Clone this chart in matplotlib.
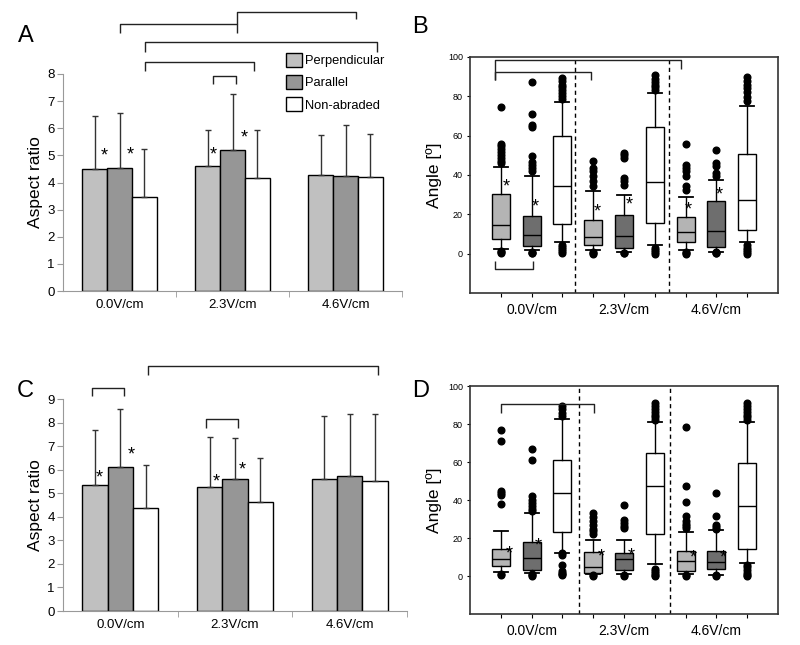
import numpy as np
import matplotlib
matplotlib.use('Agg')
import matplotlib.pyplot as plt
from matplotlib.patches import Patch

plt.rcParams['font.family'] = ['Liberation Sans', 'DejaVu Sans']

fields = ['0.0V/cm', '2.3V/cm', '4.6V/cm']
series = ['Perpendicular', 'Parallel', 'Non-abraded']
bar_colors = ['#c0c0c0', '#969696', 'white']
box_colors = ['#b4b4b4', '#6e6e6e', 'white']

# panel A: mean aspect ratio (+ SD)
a_perp = [4.48, 4.60, 4.27]
a_perp_sd = [1.99, 1.32, 1.49]
a_par = [4.52, 5.18, 4.23]
a_par_sd = [2.03, 2.10, 1.90]
a_non = [3.48, 4.15, 4.20]
a_non_sd = [1.74, 1.77, 1.60]

# panel C: mean aspect ratio (+ SD)
c_perp = [5.37, 5.28, 5.60]
c_perp_sd = [2.31, 2.12, 2.66]
c_par = [6.10, 5.59, 5.71]
c_par_sd = [2.49, 1.75, 2.66]
c_non = [4.36, 4.62, 5.54]
c_non_sd = [1.84, 1.87, 2.83]

# panel B: angle box plots (perp, par, non for each field)
b_whislo = [2.5, 1.7, 5.8, 2.0, 1.0, 4.2, 2.0, 0.8, 5.9]
b_q1 = [7.5, 4.1, 15.1, 4.6, 2.9, 15.6, 5.8, 3.4, 11.9]
b_med = [14.6, 9.5, 34.6, 8.5, 8.8, 36.3, 10.9, 11.4, 27.1]
b_q3 = [30.3, 19.3, 60.0, 17.3, 19.8, 64.4, 18.6, 26.6, 50.8]
b_whishi = [44.0, 39.5, 77.1, 31.7, 30.0, 81.7, 28.6, 37.6, 74.9]
b_fliers = [
    [74.6, 56.0, 54.5, 53.0, 51.5, 50.0, 48.5, 47.0, 46.0, 1.5, 0.8, 0.3],
    [87.3, 71.0, 65.5, 64.5, 49.5, 46.5, 45.0, 43.5, 42.0, 0.9, 0.4, 0.1],
    [89.3, 88.0, 86.0, 84.7, 83.0, 81.5, 80.0, 78.5, 4.5, 3.5, 2.5, 1.5, 0.5],
    [47.3, 43.6, 41.9, 39.3, 36.8, 34.2, 1.0, 0.4, 0.0],
    [51.2, 50.0, 48.6, 38.5, 36.8, 35.0, 0.5, 0.1],
    [90.6, 89.0, 87.5, 86.0, 84.5, 83.3, 3.0, 2.0, 1.0, 0.0],
    [55.9, 45.2, 43.6, 41.9, 39.3, 34.2, 32.5, 1.0, 0.4, 0.0],
    [52.9, 46.1, 44.8, 41.0, 39.3, 1.0, 0.5, 0.1],
    [89.8, 88.0, 86.0, 84.2, 82.0, 79.5, 77.4, 4.5, 3.0, 2.0, 1.0, 0.0],
]

# panel D: angle box plots
d_whislo = [2.1, 1.8, 12.3, 0.9, 0.9, 6.1, 0.9, 0.5, 7.0]
d_q1 = [5.2, 3.1, 23.3, 1.8, 3.1, 22.2, 2.8, 3.9, 14.4]
d_med = [8.8, 9.6, 43.7, 4.9, 8.8, 47.6, 7.9, 7.3, 36.7]
d_q3 = [14.4, 17.8, 61.2, 12.6, 12.3, 65.0, 13.1, 13.1, 59.5]
d_whishi = [23.6, 33.2, 82.7, 19.2, 19.2, 80.8, 23.1, 24.1, 81.3]
d_fliers = [
    [76.9, 71.2, 44.6, 43.5, 42.5, 38.1, 1.0, 0.5],
    [67.0, 61.2, 42.0, 40.0, 38.5, 37.0, 35.5, 34.0, 1.0, 0.5, 0.1],
    [89.5, 88.0, 86.0, 84.4, 12.0, 11.0, 5.8, 2.6, 1.8, 1.0, 0.3],
    [33.2, 31.0, 29.0, 27.0, 25.0, 23.5, 21.9, 0.3, 0.0],
    [37.6, 29.7, 28.0, 26.5, 25.5, 0.3, 0.0],
    [90.9, 89.5, 88.0, 86.5, 85.0, 83.5, 82.0, 3.5, 2.5, 1.5, 0.5, 0.0],
    [78.3, 47.6, 38.8, 31.8, 28.8, 27.5, 26.2, 25.4, 0.5, 0.0],
    [43.7, 31.5, 27.0, 26.0, 25.0, 0.5, 0.0],
    [90.9, 89.5, 88.0, 86.5, 85.0, 83.5, 82.0, 6.0, 4.5, 3.0, 1.5, 0.5, 0.0],
]

# significance marks: (x, y) in data units
a_stars = [(-0.137, 4.99), (0.093, 5.0), (0.83, 5.0), (1.10, 5.63)]
c_stars = [(-0.184, 5.66), (0.096, 6.62), (0.84, 5.49), (1.06, 5.98)]
b_stars = [(1.19, 33.9), (2.13, 23.7), (4.12, 21.0), (5.17, 24.9), (7.10, 22.4), (8.10, 29.7)]
d_stars = [(1.26, 11.4), (2.23, 15.7), (4.26, 10.0), (5.25, 10.5), (7.24, 9.6), (8.23, 9.6)]

# brackets: x0, x1, top, left leg end, right leg end
a_brackets = [(0.0, 1.04, 9.84, 9.51, 9.51), (1.04, 2.09, 10.29, 9.84, 10.03),
              (0.226, 2.28, 9.18, 8.81, 8.81), (0.226, 1.19, 8.44, 8.11, 8.11),
              (0.83, 1.03, 7.93, 7.63, 7.63)]
c_brackets = [(0.237, 2.25, 10.4, 10.02, 10.02), (-0.245, 0.035, 9.47, 9.13, 9.13),
              (0.75, 1.03, 8.15, 7.77, 7.77)]
b_brackets = [(0.8, 6.84, 98.3, 88.3, 93.9), (0.8, 3.94, 92.5, 88.3, 88.5),
              (0.8, 2.05, -7.8, -3.9, -3.9)]
d_brackets = [(1.0, 4.04, 90.4, 86.0, 86.0)]


def draw_brackets(ax, brackets):
    for x0, x1, top, l0, l1 in brackets:
        ax.plot([x0, x0, x1, x1], [l0, top, top, l1], color='#222222', lw=1.0,
                clip_on=False, solid_capstyle='butt')


def bar_panel(ax, means, sds, ymax, stars, brackets):
    x = np.arange(len(fields))
    w = 0.22
    for i, (m, s) in enumerate(zip(means, sds)):
        ax.bar(x + (i - 1) * w, m, w, color=bar_colors[i], edgecolor='black', linewidth=1.0,
               yerr=[np.zeros(len(s)), s], capsize=2.5,
               error_kw=dict(elinewidth=1.0, ecolor='#333333', capthick=1.0), zorder=2)
    ax.set_xlim(-0.5, 2.5)
    ax.set_ylim(0, ymax)
    ax.set_yticks(range(0, ymax + 1))
    ax.set_xticks(x)
    ax.set_xticklabels(fields, fontsize=9.5)
    ax.set_xticks([0.5, 1.5, 2.5], minor=True)
    ax.tick_params(axis='x', which='major', length=0, pad=6)
    ax.tick_params(axis='x', which='minor', length=4, color='#999999')
    ax.tick_params(axis='y', labelsize=9.5, length=4, color='#999999', pad=2)
    for sp in ['top', 'right']:
        ax.spines[sp].set_visible(False)
    for sp in ['left', 'bottom']:
        ax.spines[sp].set_color('#999999')
    ax.set_ylabel('Aspect ratio', fontsize=12.5, labelpad=3)
    for sx, sy in stars:
        ax.text(sx, sy, '*', ha='center', va='center', fontsize=13)
    draw_brackets(ax, brackets)


def box_panel(ax, whislo, q1, med, q3, whishi, fliers, stars, brackets, dashes):
    stats = []
    for i in range(len(med)):
        stats.append(dict(whislo=whislo[i], q1=q1[i], med=med[i], q3=q3[i],
                          whishi=whishi[i], fliers=fliers[i]))
    pos = np.arange(1, len(med) + 1)
    bp = ax.bxp(stats, positions=pos, widths=0.58, patch_artist=True, capwidths=0.45,
                manage_ticks=False,
                boxprops=dict(linewidth=1.0, edgecolor='black'),
                medianprops=dict(color='black', linewidth=1.0),
                whiskerprops=dict(color='black', linewidth=1.0),
                capprops=dict(color='black', linewidth=1.3),
                flierprops=dict(marker='o', markerfacecolor='black', markeredgecolor='black',
                                markersize=4.8, linestyle='none'))
    for i, patch in enumerate(bp['boxes']):
        patch.set_facecolor(box_colors[i % 3])
    for xd in dashes:
        ax.axvline(xd, color='black', lw=1.0, ls=(0, (3, 2.5)))
    ax.set_xlim(0, 10)
    ax.set_ylim(-20, 100)
    ax.set_yticks([0, 20, 40, 60, 80, 100])
    ax.tick_params(axis='y', labelsize=6.5, length=2, pad=3)
    ax.set_xticks(pos)
    ax.set_xticklabels(['', fields[0], '', '', fields[1], '', '', fields[2], ''], fontsize=10)
    ax.tick_params(axis='x', length=3, pad=4)
    for sp in ax.spines.values():
        sp.set_color('#333333')
        sp.set_linewidth(1.2)
    ax.set_ylabel('Angle [º]', fontsize=12.5, labelpad=4)
    for sx, sy in stars:
        ax.text(sx, sy, '*', ha='center', va='center', fontsize=13)
    draw_brackets(ax, brackets)


fig = plt.figure(figsize=(8, 6.45), dpi=100)
W, H = 800, 645
ax_a = fig.add_axes([63 / W, (H - 291) / H, (402 - 63) / W, (291 - 74) / H])
ax_b = fig.add_axes([470 / W, (H - 293) / H, 308 / W, (293 - 57) / H])
ax_c = fig.add_axes([63 / W, (H - 611) / H, (407 - 63) / W, (611 - 399) / H])
ax_d = fig.add_axes([470 / W, (H - 614) / H, 308 / W, (614 - 386) / H])

bar_panel(ax_a, [a_perp, a_par, a_non], [a_perp_sd, a_par_sd, a_non_sd], 8, a_stars, a_brackets)
bar_panel(ax_c, [c_perp, c_par, c_non], [c_perp_sd, c_par_sd, c_non_sd], 9, c_stars, c_brackets)
box_panel(ax_b, b_whislo, b_q1, b_med, b_q3, b_whishi, b_fliers, b_stars, b_brackets, [3.42, 6.45])
box_panel(ax_d, d_whislo, d_q1, d_med, d_q3, d_whishi, d_fliers, d_stars, d_brackets, [3.55, 6.5])

handles = [Patch(facecolor=c, edgecolor='black', linewidth=1.0) for c in bar_colors]
ax_a.legend(handles, series, loc='upper left', bbox_to_anchor=(286 / W, 1 - 53 / H),
            bbox_transform=fig.transFigure, frameon=False, fontsize=9.3,
            handlelength=1.25, handleheight=1.3, labelspacing=0.6, handletextpad=0.25,
            borderpad=0, borderaxespad=0)

for lab, x, y in [('A', 18, 42), ('B', 412, 33), ('C', 17, 397), ('D', 412, 397)]:
    fig.text(x / W, 1 - y / H, lab, fontsize=17, va='baseline', ha='left')

fig.savefig('out.png', dpi=100)
